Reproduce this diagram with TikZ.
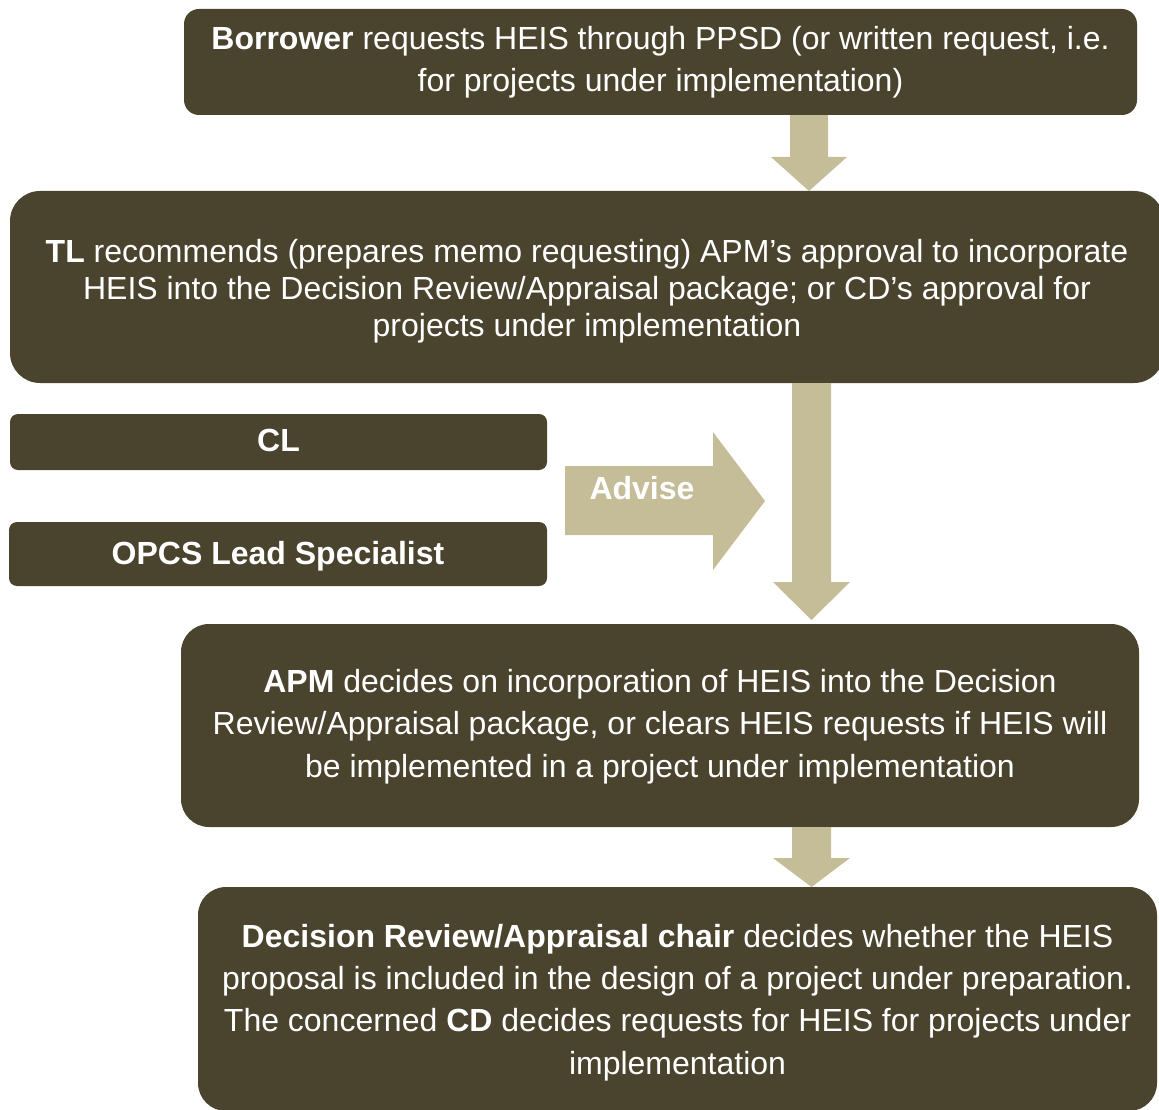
\documentclass[tikz,border=0pt]{standalone}
\usepackage{fontspec}
\setmainfont{Liberation Sans}
\definecolor{boxfill}{HTML}{4A432D}
\definecolor{arrowfill}{HTML}{C5BD98}
\begin{document}
\begin{tikzpicture}[x=1pt,y=-1pt,
  box/.style={fill=boxfill, text=white, inner sep=0pt, align=center,
    font=\fontsize{32}{42}\selectfont},
  arrowshape/.style={fill=arrowfill, draw=none}]
\useasboundingbox (0,0) rectangle (1159,1110);
% boxes
\node[box, rounded corners=15pt, minimum width=953pt, minimum height=106pt] (b1) at (660.5,62)
  {\textbf{Borrower} requests HEIS through PPSD (or written request, i.e.\\for projects under implementation)};
\node[box, rounded corners=30pt, minimum width=1154pt, minimum height=192pt, font=\fontsize{32}{37}\selectfont] (b2) at (587,287)
  {\rule{0pt}{31pt}\textbf{TL} recommends (prepares memo requesting) APM’s approval to incorporate\\HEIS into the Decision Review/Appraisal package; or CD’s approval for\\projects under implementation};
\node[box, rounded corners=8pt, minimum width=537pt, minimum height=56pt, font=\bfseries\fontsize{32}{36}\selectfont] (cl) at (278.5,442) {\rule[-4pt]{0pt}{4pt}CL};
\node[box, rounded corners=8pt, minimum width=538pt, minimum height=64pt, font=\bfseries\fontsize{32}{36}\selectfont] (opcs) at (278,554) {\rule{0pt}{27pt}OPCS Lead Specialist};
\node[box, rounded corners=28pt, minimum width=958pt, minimum height=203pt, font=\fontsize{32}{42.5}\selectfont] (b3) at (660,725.5)
  {\rule{0pt}{25pt}\textbf{APM} decides on incorporation of HEIS into the Decision\\Review/Appraisal package, or clears HEIS requests if HEIS will\\be implemented in a project under implementation};
\node[box, rounded corners=28pt, minimum width=959pt, minimum height=224pt, font=\fontsize{32}{42.3}\selectfont] (b4) at (677.5,999)
  {\rule{0pt}{30pt}\textbf{Decision Review/Appraisal chair} decides whether the HEIS\\proposal is included in the design of a project under preparation.\\The concerned \textbf{CD} decides requests for HEIS for projects under\\implementation};
% block arrows
\fill[arrowshape] (790,0 |- b1.south) -- (790,157) -- (771,157) -- (809,191) -- (847,157) -- (828,157) -- (828,0 |- b1.south) -- cycle;
\fill[arrowshape] (792,0 |- b2.south) -- (792,582) -- (773,582) -- (811.5,620) -- (850,582) -- (831,582) -- (831,0 |- b2.south) -- cycle;
\fill[arrowshape] (792,0 |- b3.south) -- (792,858) -- (773,858) -- (811.5,887) -- (850,858) -- (831,858) -- (831,0 |- b3.south) -- cycle;
\fill[arrowshape] (565,466) -- (713,466) -- (713,432) -- (765,501) -- (713,570) -- (713,535) -- (565,535) -- cycle;
\node[text=white, font=\bfseries\fontsize{32}{36}\selectfont, inner sep=0pt] (adv) at (642,488) {Advise};
\end{tikzpicture}
\end{document}
